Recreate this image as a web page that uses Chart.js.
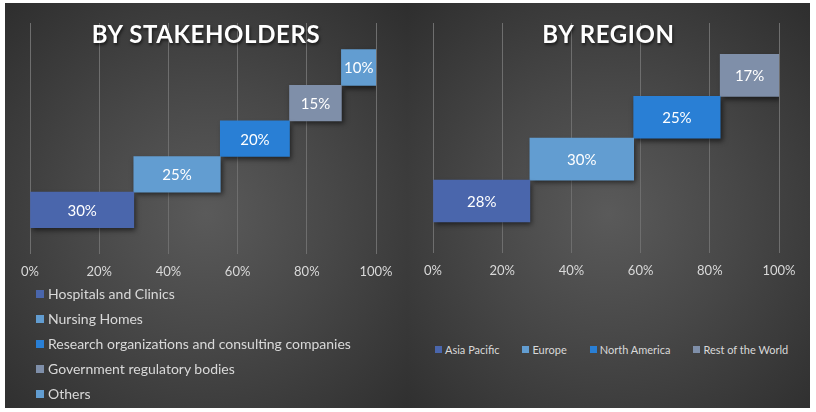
<!DOCTYPE html>
<html>
<head>
<meta charset="utf-8">
<script src="https://cdn.jsdelivr.net/npm/chart.js@4/dist/chart.umd.min.js"></script>
<style>
    html, body { margin: 0; padding: 0; background: #fff; }
    body { width: 816px; height: 412px; position: relative; overflow: hidden; font-family: Lato, 'Open Sans', sans-serif; }
    .panel {
        position: absolute; top: 3px; height: 405px;
        background: radial-gradient(circle farthest-corner at 50% 52%, #5a5a5a 0%, #474747 45%, #2e2e2e 100%);
    }
    #panelLeft { left: 5px; width: 402px; }
    #panelRight { left: 407px; width: 403px; }
    .panel canvas { position: absolute; left: 0; top: 0; }
    .title {
        position: absolute; top: 16px; left: 0; width: 100%; text-align: center;
        color: #fff; font-weight: bold; font-size: 24px; letter-spacing: 0.6px;
        text-shadow: 1px 2px 3px rgba(0, 0, 0, 0.6);
    }
    .legend { position: absolute; color: #d9d9d9; }
    .legend .item { display: flex; align-items: center; white-space: nowrap; }
    .legend .box { display: inline-block; }
    #legendLeft { left: 31px; top: 278px; font-size: 14px; }
    #legendLeft .item { height: 25px; }
    #legendLeft .box { width: 8px; height: 8px; margin-right: 4px; }
    #legendRight { left: 28px; top: 340px; font-size: 11px; display: flex; gap: 23px; }
    #legendRight .box { width: 7px; height: 7px; margin-right: 3px; }
</style>
</head>
<body>
<div class="panel" id="panelLeft">
    <canvas id="chartStake" width="402" height="300"></canvas>
    <div class="title">BY STAKEHOLDERS</div>
    <div class="legend" id="legendLeft"></div>
</div>
<div class="panel" id="panelRight">
    <canvas id="chartRegion" width="403" height="300"></canvas>
    <div class="title">BY REGION</div>
    <div class="legend" id="legendRight"></div>
</div>
<script>
// datos
const stakeholderLabels = [
    'Hospitals and Clinics',
    'Nursing Homes',
    'Research organizations and consulting companies',
    'Government regulatory bodies',
    'Others'
];
const stakeholderShares = [30, 25, 20, 15, 10];
const stakeholderColors = ['#4a66ac', '#629dd1', '#297fd5', '#7f8fa9', '#629dd1'];

const regionLabels = ['Asia Pacific', 'Europe', 'North America', 'Rest of the World'];
const regionShares = [28, 30, 25, 17];
const regionColors = ['#4a66ac', '#629dd1', '#297fd5', '#7f8fa9'];

const axisTicks = [0, 20, 40, 60, 80, 100];

// sombra de las barras y etiquetas de porcentaje
const barExtras = {
    id: 'barExtras',
    beforeDatasetsDraw(chart) {
        const ctx = chart.ctx;
        ctx.save();
        ctx.shadowColor = 'rgba(0, 0, 0, 0.55)';
        ctx.shadowBlur = 5;
        ctx.shadowOffsetX = 2;
        ctx.shadowOffsetY = 3;
    },
    afterDatasetsDraw(chart) {
        const ctx = chart.ctx;
        ctx.restore();
        ctx.save();
        ctx.fillStyle = '#ffffff';
        ctx.font = '15px Lato, "Open Sans", sans-serif';
        ctx.textAlign = 'center';
        ctx.textBaseline = 'middle';
        chart.data.datasets.forEach((ds, i) => {
            const meta = chart.getDatasetMeta(i);
            meta.data.forEach(bar => {
                const cx = (bar.x + bar.base) / 2;
                ctx.fillText(ds.share + '%', cx, bar.y + 1);
            });
        });
        ctx.restore();
    }
};

function buildDatasets(labels, shares, colors) {
    let acc = 0;
    return labels.map((label, i) => {
        const start = acc;
        acc += shares[i];
        return {
            label: label,
            share: shares[i],
            data: [{ y: i + 1, x: [start, acc] }],
            backgroundColor: colors[i],
            borderWidth: 0,
            grouped: false,
            barPercentage: 1,
            categoryPercentage: 1
        };
    });
}

function makeChart(canvasId, labels, shares, colors, pad) {
    const ctx = document.getElementById(canvasId).getContext('2d');
    return new Chart(ctx, {
        type: 'bar',
        data: { datasets: buildDatasets(labels, shares, colors) },
        options: {
            indexAxis: 'y',
            responsive: false,
            animation: false,
            layout: { padding: pad },
            plugins: {
                legend: { display: false },
                title: { display: false },
                tooltip: { enabled: false }
            },
            scales: {
                x: {
                    type: 'linear',
                    min: axisTicks[0],
                    max: axisTicks[axisTicks.length - 1],
                    afterBuildTicks: axis => { axis.ticks = axisTicks.map(v => ({ value: v })); },
                    border: { display: false },
                    grid: { color: '#6e6e6e', lineWidth: 1, drawTicks: false },
                    ticks: {
                        color: '#d9d9d9',
                        padding: 10,
                        font: { family: 'Lato, "Open Sans", sans-serif', size: 13 },
                        callback: v => v + '%'
                    }
                },
                y: {
                    type: 'linear',
                    offset: false,
                    min: 0.5 - 0.75,
                    max: labels.length + 0.5 + 0.75,
                    afterBuildTicks: axis => { axis.ticks = labels.map((l, i) => ({ value: i + 1 })); },
                    display: false
                }
            }
        },
        plugins: [barExtras]
    });
}

function buildLegend(elId, labels, colors) {
    const el = document.getElementById(elId);
    labels.forEach((label, i) => {
        const item = document.createElement('div');
        item.className = 'item';
        const box = document.createElement('span');
        box.className = 'box';
        box.style.background = colors[i];
        const txt = document.createElement('span');
        txt.textContent = label;
        item.appendChild(box);
        item.appendChild(txt);
        el.appendChild(item);
    });
}

makeChart('chartStake', stakeholderLabels, stakeholderShares, stakeholderColors,
    { left: 25, right: 31, top: 20, bottom: 13 });
makeChart('chartRegion', regionLabels, regionShares, regionColors,
    { left: 26, right: 31, top: 20, bottom: 14 });

buildLegend('legendLeft', stakeholderLabels, stakeholderColors);
buildLegend('legendRight', regionLabels, regionColors);
</script>
</body>
</html>
